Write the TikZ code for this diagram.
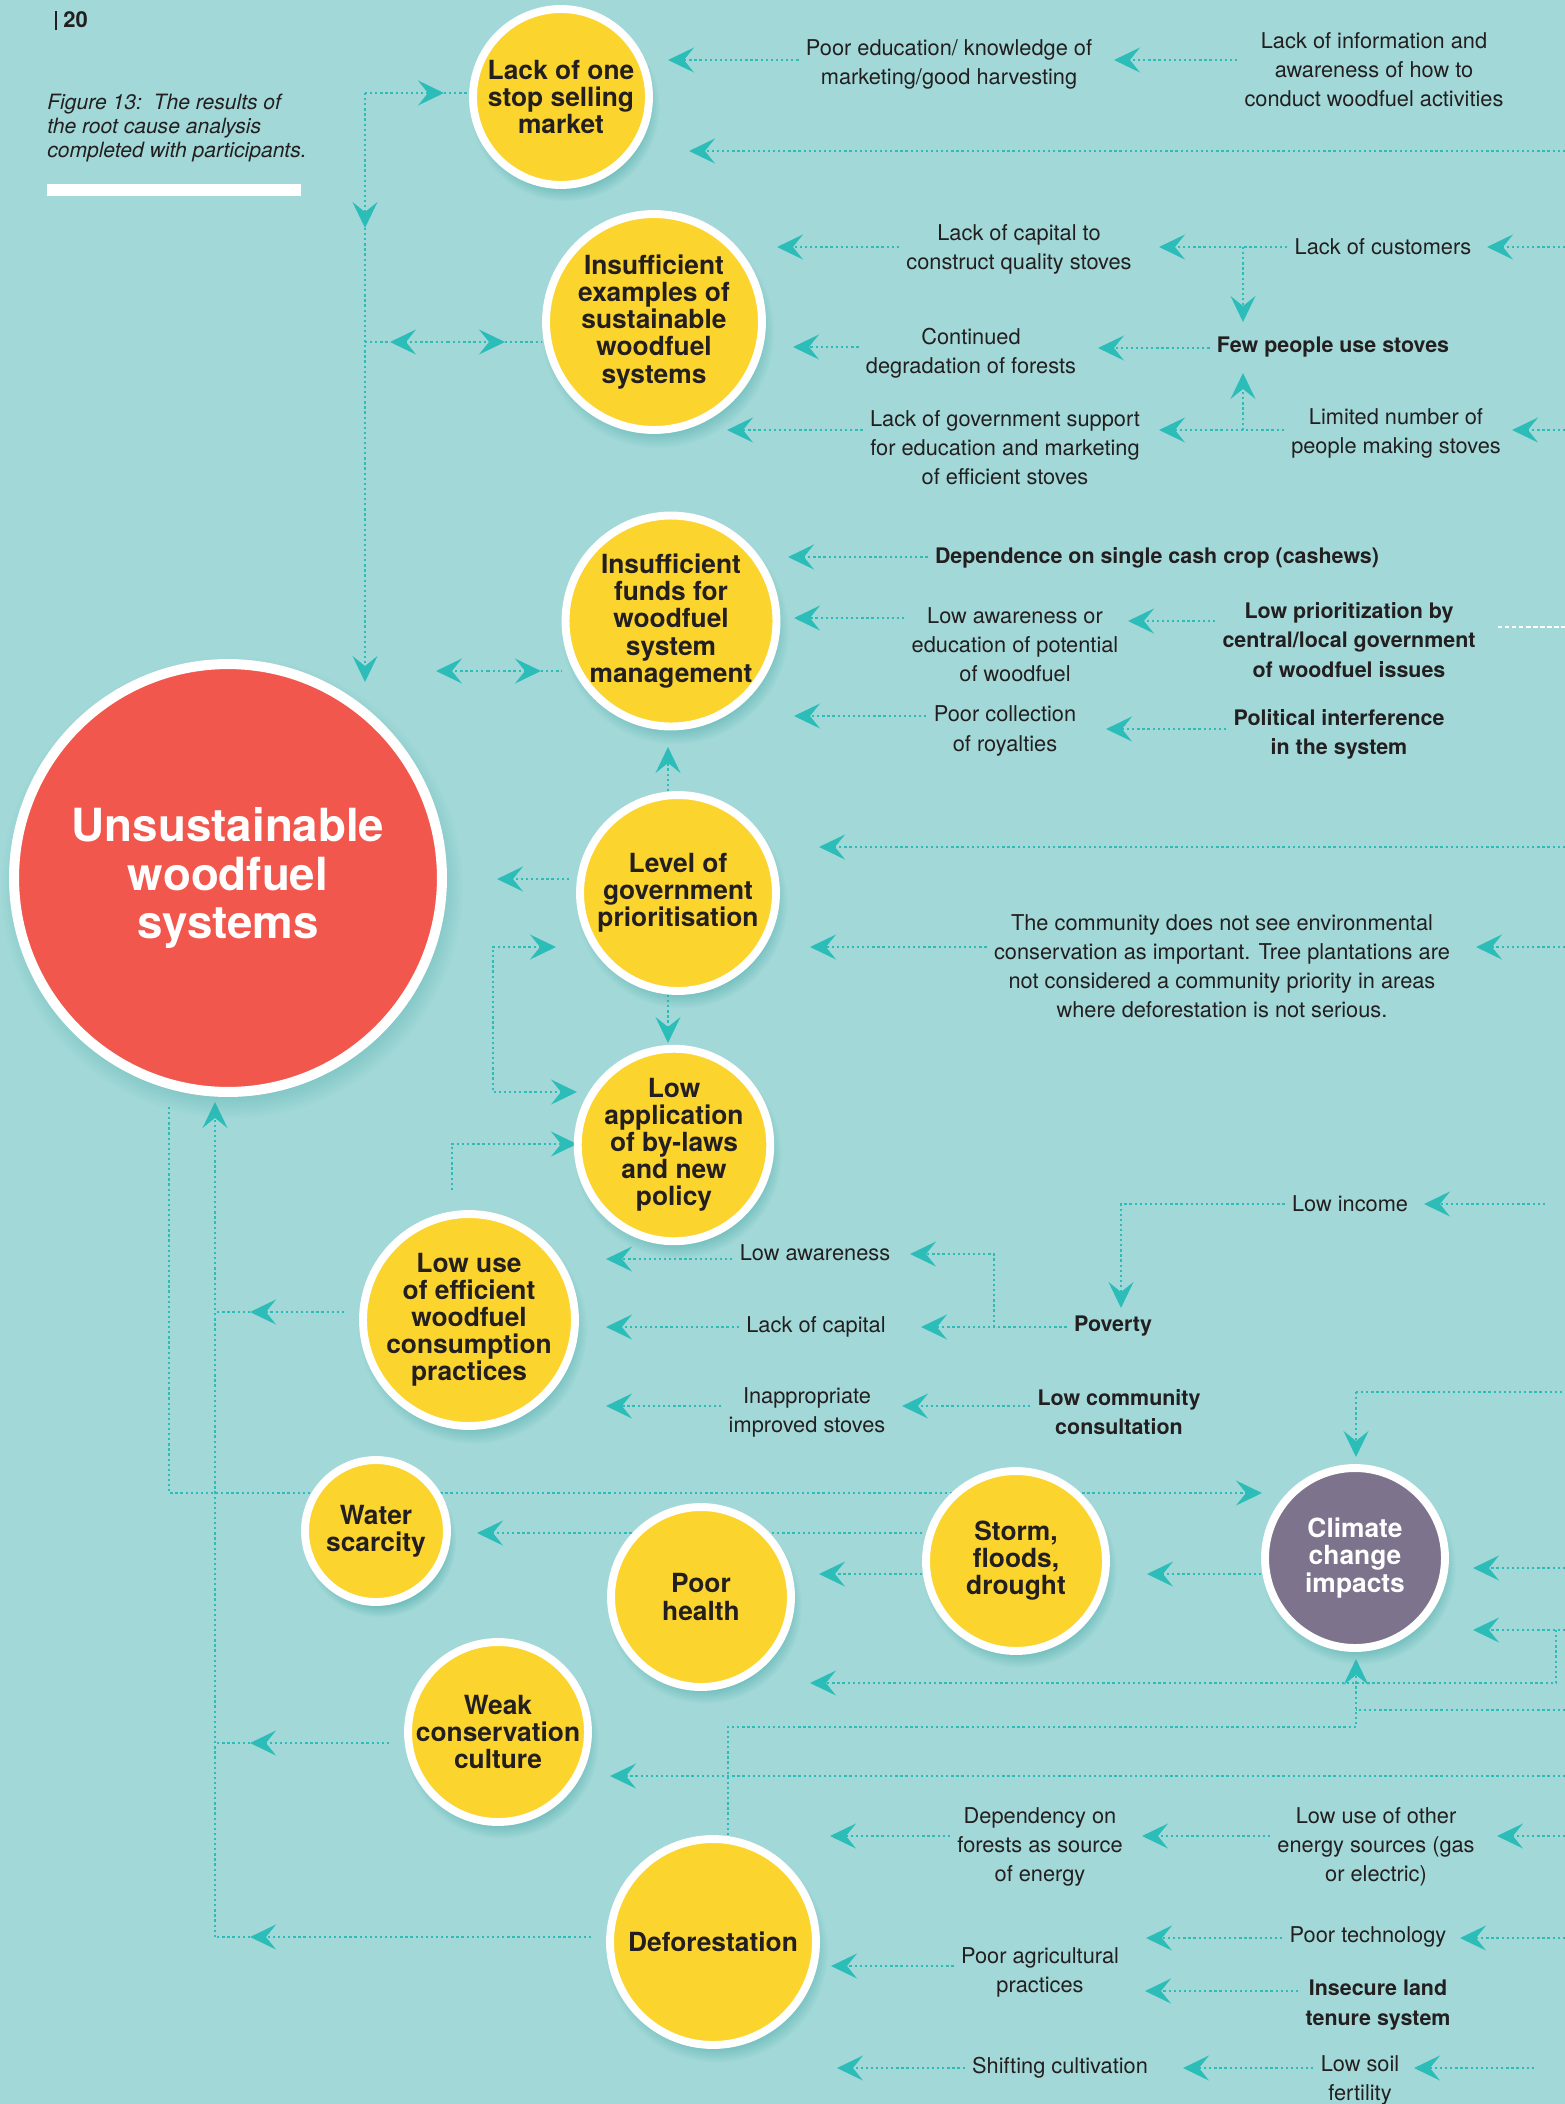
\documentclass[tikz,border=0pt]{standalone}
\usepackage{fontspec}
\setmainfont{TeX Gyre Heros}
\usepackage{tikz}
\usetikzlibrary{arrows.meta, backgrounds, shadows, fadings}
\definecolor{sea}{RGB}{162, 217, 216}
\definecolor{sun}{RGB}{252, 212, 46}
\definecolor{coral}{RGB}{241, 87, 77}
\definecolor{dusk}{RGB}{125, 115, 140}
\definecolor{aqua}{RGB}{44, 189, 185}
\definecolor{shade}{RGB}{60, 160, 160}
\definecolor{ink}{RGB}{35, 31, 32}

\begin{document}
\begin{tikzpicture}[x=0.02cm, y=-0.02cm,
  dotline/.style={aqua, line width=1.35pt, dash pattern=on 1.3pt off 1.6pt},
  arr/.style={dotline, -{Stealth[length=0.52cm, width=0.5cm, inset=0.2cm]}},
  arrboth/.style={dotline, {Stealth[length=0.52cm, width=0.5cm, inset=0.2cm]}-{Stealth[length=0.52cm, width=0.5cm, inset=0.2cm]}},
  bubble/.style={circle, draw=white, line width=4.5pt, fill=sun, text=ink, align=center, inner sep=0pt,
    font=\fontsize{15}{15.4}\selectfont\bfseries,
    circular drop shadow={fill=shade, opacity=0.45, shadow xshift=2pt, shadow yshift=-5pt, shadow scale=1.08}},
  lbl/.style={text=ink, align=center, inner sep=4pt, font=\fontsize{12.4}{16.6}\selectfont},
  blbl/.style={lbl, font=\fontsize{12.2}{16.6}\selectfont\bfseries}]

  \useasboundingbox (0,0) rectangle (1565,2104);
  \begin{scope}[on background layer]
    \fill[sea] (0,0) rectangle (1565,2104);
  \end{scope}

  % page number, caption
  \draw[ink, line width=1.6pt] (56,11) -- (56,30);
  \node[text=ink, font=\fontsize{12.5}{14}\selectfont\bfseries, anchor=west, inner sep=0pt] (page) at (63,20) {20};
  \node[text=ink, anchor=north west, align=left, inner sep=0pt, font=\fontsize{12}{13.7}\selectfont\itshape] (caption) at (47,94)
    {Figure 13:\ \ The results of\\the root cause analysis\\completed with participants.};
  \fill[white] (47,184) rectangle (301,196);

  % circles
  \node[bubble, minimum size=8.56cm, fill=coral, text=white, line width=5.7pt,
        font=\fontsize{26}{27.8}\selectfont\bfseries] (red) at (228,878) {Unsustainable\\woodfuel\\systems};
  \node[bubble, minimum size=3.52cm] (market) at (561,97) {Lack of one\\stop selling\\market};
  \node[bubble, minimum size=4.32cm] (examples) at (654,322) {Insufficient\\examples of\\sustainable\\woodfuel\\systems};
  \node[bubble, minimum size=4.22cm] (funds) at (671,621) {Insufficient\\funds for\\woodfuel\\system\\management};
  \node[bubble, minimum size=3.92cm] (level) at (678,893) {Level of\\government\\prioritisation};
  \node[bubble, minimum size=3.64cm] (lowapp) at (674,1145) {Low\\application\\of by-laws\\and new\\policy};
  \node[bubble, minimum size=4.24cm] (lowuse) at (469,1320) {Low use\\of efficient\\woodfuel\\consumption\\practices};
  \node[bubble, minimum size=2.84cm] (water) at (376,1531) {Water\\scarcity};
  \node[bubble, minimum size=3.6cm] (health) at (701,1597) {Poor\\health};
  \node[bubble, minimum size=3.6cm] (storm) at (1016,1561) {Storm,\\floods,\\drought};
  \node[bubble, minimum size=3.6cm, fill=dusk, text=white] (climate) at (1355,1558) {Climate\\change\\impacts};
  \node[bubble, minimum size=3.6cm] (weak) at (498,1732) {Weak\\conservation\\culture};
  \node[bubble, minimum size=4.12cm] (defor) at (713,1942) {Deforestation};

  % labels
  \node[lbl] (poored) at (949,64) {Poor education/ knowledge of\\marketing/good harvesting};
  \node[lbl] (lackinfo) at (1374,70) {Lack of information and\\awareness of how to\\conduct woodfuel activities};
  \node[lbl] (lackcap) at (1019,249) {Lack of capital to\\construct quality stoves};
  \node[lbl] (customers) at (1383,247) {Lack of customers};
  \node[blbl] (fewuse) at (1333,347) {Few people use stoves};
  \node[lbl] (degrad) at (971,353) {Continued\\degradation of forests};
  \node[lbl] (govsup) at (1005,448) {Lack of government support\\for education and marketing\\of efficient stoves};
  \node[lbl] (makers) at (1396,433) {Limited number of\\people making stoves};
  \node[blbl] (cashew) at (1157,558) {Dependence on single cash crop (cashews)};
  \node[lbl] (awareness) at (1015,645) {Low awareness or\\education of potential\\of woodfuel};
  \node[blbl] (priority) at (1349,640) {Low prioritization by\\central/local government\\of woodfuel issues};
  \node[lbl] (royalty) at (1005,731) {Poor collection\\of royalties};
  \node[blbl] (political) at (1339,734) {Political interference\\in the system};
  \node[lbl] (community) at (1222,966) {The community does not see environmental\\conservation as important. Tree plantations are\\not considered a community priority in areas\\where deforestation is not serious.};
  \node[lbl] (income) at (1350,1204) {Low income};
  \node[blbl] (poverty) at (1113,1326) {Poverty};
  \node[lbl] (lowaware) at (815,1253) {Low awareness};
  \node[lbl] (lackcapital) at (816,1327) {Lack of capital};
  \node[lbl] (inapp) at (807,1412) {Inappropriate\\improved stoves};
  \node[blbl] (consult) at (1119,1412) {Low community\\consultation};
  \node[lbl] (dependency) at (1040,1847) {Dependency on\\forests as source\\of energy};
  \node[lbl] (otherenergy) at (1376,1847) {Low use of other\\energy sources (gas\\or electric)};
  \node[lbl] (technology) at (1368,1937) {Poor technology};
  \node[lbl] (agri) at (1040,1972) {Poor agricultural\\practices};
  \node[blbl] (tenure) at (1378,2005) {Insecure land\\tenure system};
  \node[lbl] (shifting) at (1060,2068) {Shifting cultivation};
  \node[lbl] (soil) at (1360,2080) {Low soil\\fertility};

  % arrow tips and joints
  \coordinate (pe1) at (1114,60);   \coordinate (mk1) at (668,60);    \coordinate (mk2) at (689,151);
  \coordinate (cu1) at (1487,247);  \coordinate (lc1) at (1159,247);  \coordinate (ex1) at (777,247);
  \coordinate (jn1) at (1243,247);  \coordinate (fw1) at (1243,322);  \coordinate (dg1) at (1098,348);
  \coordinate (ex2) at (793,347);   \coordinate (mkr1) at (1512,430); \coordinate (gs1) at (1159,430);
  \coordinate (jn2) at (1243,430);  \coordinate (fw2) at (1243,373);  \coordinate (ex3) at (727,430);
  \coordinate (fd1) at (788,557);   \coordinate (fd2) at (794,618);   \coordinate (aw1) at (1128,621);
  \coordinate (fd3) at (794,716);   \coordinate (ry1) at (1106,729);
  \coordinate (lv1) at (819,847);   \coordinate (lv2) at (810,947);   \coordinate (cm1) at (1476,947);
  \coordinate (lvr) at (497,879);   \coordinate (lvup) at (668,747);  \coordinate (lvdn) at (668,1043);
  \coordinate (brk1) at (556,947);  \coordinate (brkc) at (493,1092); \coordinate (brk2) at (577,1092);
  \coordinate (luup) at (452,1190); \coordinate (ap1) at (577,1144);
  \coordinate (lu1) at (606,1259);  \coordinate (lu2) at (606,1327);  \coordinate (lu3) at (606,1406);
  \coordinate (la1) at (910,1254);  \coordinate (lk1) at (921,1327);  \coordinate (jn3) at (994,1327);
  \coordinate (in1) at (902,1406);  \coordinate (ic0) at (1545,1204); \coordinate (ic1) at (1424,1204);
  \coordinate (pv1) at (1121,1308);
  \coordinate (trA) at (365,93);    \coordinate (mk0) at (444,93);    \coordinate (tr1) at (365,228);
  \coordinate (tr2) at (365,682);
  \coordinate (exj) at (365,342);   \coordinate (exl) at (390,342);   \coordinate (exm) at (448,342);
  \coordinate (exr) at (505,342);
  \coordinate (fdl) at (436,671);   \coordinate (fdm) at (488,671);   \coordinate (fdr) at (541,671);
  \coordinate (lf1) at (250,1312);  \coordinate (lf2) at (250,1743);  \coordinate (lf3) at (250,1937);
  \coordinate (trB1) at (215,1312); \coordinate (trB2) at (215,1743); \coordinate (trB3) at (215,1937);
  \coordinate (rdup) at (215,1102); \coordinate (rdc) at (169,1107);  \coordinate (cl1) at (1262,1493);
  \coordinate (wt1) at (477,1533);  \coordinate (ph1) at (819,1574);  \coordinate (st1) at (1147,1574);
  \coordinate (cl2) at (1356,1457); \coordinate (cl3) at (1473,1568); \coordinate (cl4) at (1473,1630);
  \coordinate (jn4) at (1556,1630); \coordinate (ph2) at (810,1683);
  \coordinate (dfx) at (728,1727);  \coordinate (cl5) at (1356,1659); \coordinate (jn5) at (1356,1710);
  \coordinate (wk1) at (610,1776);
  \coordinate (df1) at (830,1836);  \coordinate (dp1) at (1142,1836); \coordinate (oe1) at (1497,1836);
  \coordinate (tc1) at (1460,1938); \coordinate (ag1) at (1146,1938); \coordinate (df2) at (831,1966);
  \coordinate (ag2) at (1145,1991); \coordinate (df3) at (837,2068);  \coordinate (sh1) at (1183,2068);
  \coordinate (sl0) at (1534,2068); \coordinate (sl1) at (1414,2068);

  \begin{scope}[on background layer]
    % market
    \draw[arr] (lackinfo.west |- pe1) -- (pe1);
    \draw[arr] (poored.west |- mk1) -- (mk1);
    \draw[arr] (mk2 -| 1565,0) -- (mk2);

    % examples
    \draw[arr] (cu1 -| 1565,0) -- (cu1);
    \draw[arr] (customers.west) -- (lc1);
    \draw[arr] (lackcap.west |- ex1) -- (ex1);
    \draw[arr] (jn1) -- (fw1);
    \draw[arr] (fewuse.west |- dg1) -- (dg1);
    \draw[arr] (degrad.west |- ex2) -- (ex2);
    \draw[arr] (mkr1 -| 1565,0) -- (mkr1);
    \draw[arr] (makers.west |- gs1) -- (gs1);
    \draw[arr] (jn2) -- (fw2);
    \draw[arr] (govsup.west |- ex3) -- (ex3);

    % funds
    \draw[arr] (cashew.west |- fd1) -- (fd1);
    \draw[arr] (awareness.west |- fd2) -- (fd2);
    \draw[arr] (priority.west |- aw1) -- (aw1);
    \draw[arr] (royalty.west |- fd3) -- (fd3);
    \draw[arr] (political.west |- ry1) -- (ry1);
    \draw[white, line width=0.9pt, dash pattern=on 2.5pt off 1.5pt] (1498,627) -- (1565,627);

    % level
    \draw[arr] (lv1 -| 1565,0) -- (lv1);
    \draw[arr] (community.west |- lv2) -- (lv2);
    \draw[arr] (cm1 -| 1565,0) -- (cm1);
    \draw[arr, shorten <=4pt] (level.west |- lvr) -- (lvr);
    \draw[arr] (level.north -| lvup) -- (lvup);
    \draw[arr] (level.south -| lvdn) -- (lvdn);
    \draw[arrboth] (brk1) -| (brkc) -- (brk2);

    % low use
    \draw[arr] (luup) |- (ap1);
    \draw[arr] (lowaware.west |- lu1) -- (lu1);
    \draw[arr] (lackcapital.west |- lu2) -- (lu2);
    \draw[arr] (inapp.west |- lu3) -- (lu3);
    \draw[arr] (poverty.west |- lk1) -- (lk1);
    \draw[arr] (jn3) |- (la1);
    \draw[arr] (consult.west |- in1) -- (in1);
    \draw[arr] (ic0) -- (ic1);
    \draw[arr] (income.west) -| (pv1);

    % left trunk, top
    \draw[arr] (trA) -- (mk0);
    \draw[dotline] (mk0) -- (market.west |- mk0);
    \draw[arr] (trA) -- (tr1);
    \draw[arr] (tr1) -- (tr2);
    \draw[dotline] (exj) -- (exl);
    \draw[arr] (exm) -- (exl);
    \draw[arr] (exm) -- (exr);
    \draw[dotline] (exr) -- (examples.west |- exr);
    \draw[arr] (fdm) -- (fdl);
    \draw[arr] (fdm) -- (fdr);
    \draw[dotline] (fdr) -- (funds.west |- fdr);

    % left trunk, bottom
    \draw[arr, shorten <=0.3cm] (lowuse.west |- lf1) -- (lf1);
    \draw[dotline] (lf1) -- (trB1);
    \draw[arr, shorten <=0.3cm] (weak.west |- lf2) -- (lf2);
    \draw[dotline] (lf2) -- (trB2);
    \draw[arr, shorten <=0.3cm] (defor.west |- lf3) -- (lf3);
    \draw[dotline] (lf3) -- (trB3);
    \draw[arr] (trB3) -- (rdup);
    \draw[arr] (rdc) |- (cl1);

    % climate, storm
    \draw[arr] (storm.west |- wt1) -- (wt1);
    \draw[arr] (storm.west |- ph1) -- (ph1);
    \draw[arr] (climate.west |- st1) -- (st1);
    \draw[arr] (cl2 |- 0,1392) -| (cl2);
    \draw[dotline] (cl2 |- 0,1392) -- (1565,1392);
    \draw[arr] (cl3 -| 1565,0) -- (cl3);
    \draw[arr] (cl4 -| 1565,0) -- (cl4);
    \draw[arr] (jn4) |- (ph2);
    \draw[arr] (defor.north -| dfx) -- (dfx) -| (cl5);
    \draw[dotline] (jn5 -| 1565,0) -- (jn5);
    \draw[arr] (wk1 -| 1565,0) -- (wk1);

    % deforestation
    \draw[arr] (dependency.west |- df1) -- (df1);
    \draw[arr] (otherenergy.west |- dp1) -- (dp1);
    \draw[arr] (oe1 -| 1565,0) -- (oe1);
    \draw[arr] (tc1 -| 1565,0) -- (tc1);
    \draw[arr] (technology.west |- ag1) -- (ag1);
    \draw[arr] (agri.west |- df2) -- (df2);
    \draw[arr] (tenure.west |- ag2) -- (ag2);
    \draw[arr] (shifting.west |- df3) -- (df3);
    \draw[arr] (soil.west |- sh1) -- (sh1);
    \draw[arr] (sl0) -- (sl1);
  \end{scope}

\end{tikzpicture}
\end{document}
